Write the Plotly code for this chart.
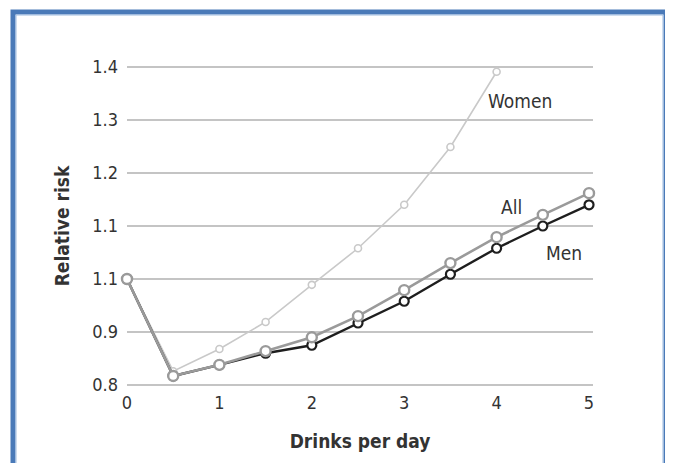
import plotly.graph_objects as go

drinks = [0, 0.5, 1, 1.5, 2, 2.5, 3, 3.5, 4, 4.5, 5]
women_x = [0, 0.5, 1, 1.5, 2, 2.5, 3, 3.5, 4]
women = [1.0, 0.826, 0.868, 0.919, 0.989, 1.058, 1.140, 1.249, 1.391]
all_ = [1.0, 0.817, 0.838, 0.864, 0.890, 0.930, 0.979, 1.030, 1.079, 1.121, 1.162]
men = [1.0, 0.817, 0.838, 0.860, 0.875, 0.917, 0.958, 1.009, 1.058, 1.100, 1.140]

y_tickvals = [0.8, 0.9, 1.0, 1.1, 1.2, 1.3, 1.4]
y_ticktext = ["0.8", "0.9", "1.1", "1.1", "1.2", "1.3", "1.4"]
x_tickvals = [0, 1, 2, 3, 4, 5]

FONT = "Liberation Sans Narrow, Arial Narrow, DejaVu Sans Condensed, sans-serif"
TXT = "#333333"

fig = go.Figure()
fig.add_trace(go.Scatter(x=women_x, y=women, mode="lines+markers", name="Women",
                         line=dict(color="#c9c9c9", width=1.6),
                         marker=dict(symbol="circle", size=7, color="white",
                                     line=dict(color="#c9c9c9", width=1.6)),
                         cliponaxis=False))
fig.add_trace(go.Scatter(x=drinks, y=men, mode="lines+markers", name="Men",
                         line=dict(color="#1e1e1e", width=2.4),
                         marker=dict(symbol="circle", size=9, color="white",
                                     line=dict(color="#1e1e1e", width=2.2)),
                         cliponaxis=False))
fig.add_trace(go.Scatter(x=drinks, y=all_, mode="lines+markers", name="All",
                         line=dict(color="#9a9a9a", width=2.6),
                         marker=dict(symbol="circle", size=10, color="white",
                                     line=dict(color="#9a9a9a", width=2.4)),
                         cliponaxis=False))

# page offset (body margin) compensation
OFF = 8
W, H = 673, 463
L, R, T, B = 127 - OFF, 593 - OFF, 62 - OFF, 390 - OFF

def px(x):
    return (x - OFF - L) / (R - L)

def py(y):
    return (B - (y - OFF)) / (B - T)

fig.add_shape(type="rect", xref="paper", yref="paper",
              x0=px(13), x1=px(666), y0=py(480), y1=py(12),
              line=dict(color="#4a7ab8", width=5), layer="below")
fig.add_shape(type="rect", xref="paper", yref="paper",
              x0=px(16), x1=px(663), y0=py(480), y1=py(15),
              line=dict(color="#9dbbe0", width=1), layer="below")

for txt, x, y in [("Women", 4.25, 1.335), ("All", 4.16, 1.135), ("Men", 4.73, 1.05)]:
    fig.add_annotation(x=x, y=y, text=txt, showarrow=False,
                       font=dict(family=FONT, size=19, color=TXT))

fig.update_layout(
    width=W, height=H,
    margin=dict(l=L, r=W - R, t=T, b=H - B),
    paper_bgcolor="white", plot_bgcolor="white",
    showlegend=False,
    font=dict(family=FONT, size=18, color=TXT),
)
fig.update_xaxes(range=[0, 5.043], tickvals=x_tickvals, showgrid=False,
                 zeroline=False, showline=False,
                 tickfont=dict(family=FONT, size=18, color=TXT),
                 title=dict(text="<b>Drinks per day</b>", standoff=22,
                            font=dict(family=FONT, size=19, color=TXT)))
fig.update_yaxes(range=[0.8 - 5 / 530, 1.4 + 5 / 530], tickvals=y_tickvals,
                 ticktext=y_ticktext, showgrid=True, gridcolor="#c4c4c4",
                 gridwidth=2, zeroline=False, showline=False,
                 ticklabelstandoff=8,
                 tickfont=dict(family=FONT, size=18, color=TXT),
                 title=dict(text="<b>Relative risk</b>", standoff=17,
                            font=dict(family=FONT, size=19, color=TXT)))

fig.write_html("out.html")
